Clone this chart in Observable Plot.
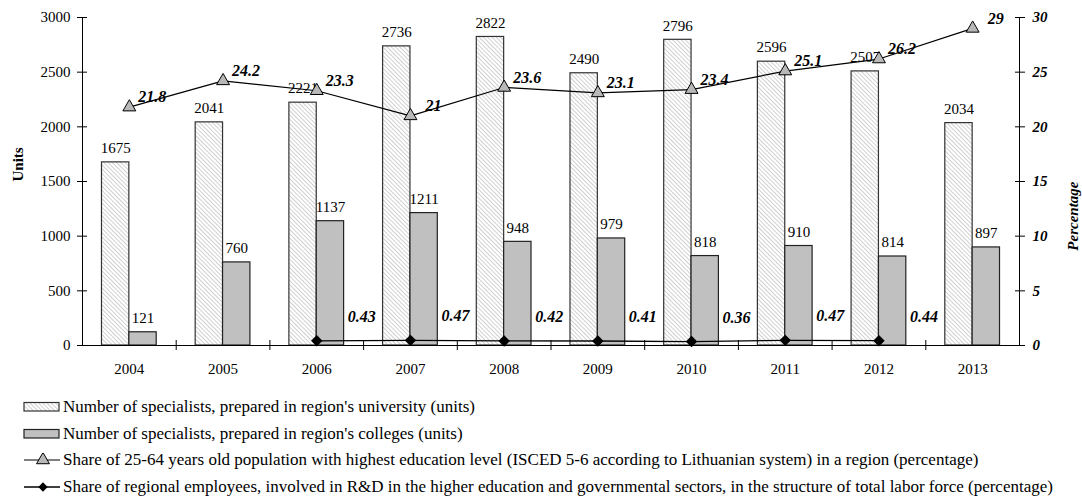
<!DOCTYPE html>
<html>
<head>
<meta charset="utf-8">
<script src="https://cdn.jsdelivr.net/npm/d3@7"></script>
<script src="https://cdn.jsdelivr.net/npm/@observablehq/plot@0.6"></script>
<style>
  body { margin: 0; background: #fff; font-family: "Liberation Serif", "Times New Roman", serif; }
  #legend { padding-top: 9px; font-size: 17px; color: #000; }
  .row { height: 26.5px; display: flex; align-items: center; white-space: nowrap; }
  .row svg { margin-left: 22px; margin-right: 3px; flex: none; }
</style>
</head>
<body>
<div id="chart"></div>
<div id="legend"></div>
<script>
const years = [2004, 2005, 2006, 2007, 2008, 2009, 2010, 2011, 2012, 2013];
const university = [1675, 2041, 2221, 2736, 2822, 2490, 2796, 2596, 2507, 2034];
const colleges = [121, 760, 1137, 1211, 948, 979, 818, 910, 814, 897];
const shareHigherEd = [21.8, 24.2, 23.3, 21, 23.6, 23.1, 23.4, 25.1, 26.2, 29];
const rdYears = [2006, 2007, 2008, 2009, 2010, 2011, 2012];
const rdShare = [0.43, 0.47, 0.42, 0.41, 0.36, 0.47, 0.44];
const unitTicks = [0, 500, 1000, 1500, 2000, 2500, 3000];
const pctTicks = [0, 5, 10, 15, 20, 25, 30];
const legendLabels = [
  "Number of specialists, prepared in region's university (units)",
  "Number of specialists, prepared in region's colleges (units)",
  "Share of 25-64 years old population with highest education level (ISCED 5-6 according to  Lithuanian system) in a region (percentage)",
  "Share of regional employees, involved in R&D in the higher education and governmental sectors, in the structure of total labor force (percentage)"
];

const SERIF = "'Liberation Serif', 'Times New Roman', serif";
const PCT = 100; // 30 % on the right axis corresponds to 3000 units on the left
const bars = years.map((year, i) => ({year, univ: university[i], coll: colleges[i]}));
const share = years.map((year, i) => ({year, v: shareHigherEd[i]}));
const rd = rdYears.map((year, i) => ({year, v: rdShare[i]}));
const w = 0.292;
const boundaries = years.slice(0, -1).map(y => y + 0.5);

const defs = () => {
  const g = d3.create("svg:g");
  const p = g.append("defs").append("pattern")
    .attr("id", "hatch").attr("patternUnits", "userSpaceOnUse")
    .attr("width", 3).attr("height", 3).attr("patternTransform", "rotate(-45)");
  p.append("rect").attr("width", 3).attr("height", 3).attr("fill", "#fff");
  p.append("line").attr("x1", 0).attr("y1", 0).attr("x2", 0).attr("y2", 3)
    .attr("stroke", "#aaa").attr("stroke-width", 1.1);
  return g.node();
};

const chart = Plot.plot({
  width: 1082,
  height: 385,
  marginLeft: 82,
  marginRight: 63,
  marginTop: 17,
  marginBottom: 40,
  style: {fontFamily: SERIF, fontSize: "15px", color: "#000", background: "#fff"},
  x: {type: "linear", domain: [years[0] - 0.5, years[years.length - 1] + 0.5]},
  y: {domain: [0, 3000]},
  marks: [
    defs,
    Plot.rectY(bars, {x1: d => d.year - w, x2: d => d.year, y: "univ", fill: "url(#hatch)", stroke: "#333", strokeWidth: 1.2}),
    Plot.rectY(bars, {x1: d => d.year, x2: d => d.year + w, y: "coll", fill: "#c0c0c0", stroke: "#222", strokeWidth: 1.2}),
    Plot.text(bars, {x: d => d.year - w / 2, y: "univ", text: d => String(d.univ), dy: -14, fontSize: 15, fontFamily: SERIF}),
    Plot.text(bars, {x: d => d.year + w / 2, y: "coll", text: d => String(d.coll), dy: -14, fontSize: 15, fontFamily: SERIF}),
    Plot.ruleX([years[0] - 0.5, years[years.length - 1] + 0.5], {stroke: "#000", strokeWidth: 1}),
    Plot.ruleY([0], {stroke: "#000", strokeWidth: 1}),
    Plot.axisY({ticks: unitTicks, tickSize: 0, tickPadding: 12, label: null, tickFormat: d => String(d), fontFamily: SERIF}),
    Plot.axisY({ticks: unitTicks, fill: "none", tickSize: 10, dx: 5, label: null}),
    Plot.axisY({anchor: "right", ticks: pctTicks.map(d => d * PCT), tickSize: 0, tickPadding: 13, label: null,
      tickFormat: d => String(d / PCT), fontWeight: "bold", fontStyle: "italic", fontFamily: SERIF}),
    Plot.axisY({anchor: "right", ticks: pctTicks.map(d => d * PCT), fill: "none", tickSize: 10, dx: -5, label: null}),
    Plot.axisX({ticks: years, tickSize: 0, tickPadding: 18, label: null, tickFormat: d => String(d), fontFamily: SERIF}),
    Plot.axisX({ticks: boundaries, fill: "none", tickSize: 10, dy: -5, label: null}),
    Plot.text(["Units"], {frameAnchor: "left", text: d => d, rotate: -90, dx: -64, fontWeight: "bold", fontSize: 15, fontFamily: SERIF}),
    Plot.text(["Percentage"], {frameAnchor: "right", text: d => d, rotate: -90, dx: 54, fontWeight: "bold", fontStyle: "italic", fontSize: 15, fontFamily: SERIF}),
    Plot.line(rd, {x: "year", y: d => d.v * PCT, stroke: "#000", strokeWidth: 1.3}),
    Plot.dot(rd, {x: "year", y: d => d.v * PCT, symbol: "diamond2", r: 4.2, fill: "#000", stroke: "#000"}),
    Plot.text(rd, {x: "year", y: d => d.v * PCT, text: d => String(d.v), dx: 45, dy: -24, fontWeight: "bold", fontStyle: "italic", fontSize: 16, fontFamily: SERIF}),
    Plot.line(share, {x: "year", y: d => d.v * PCT, stroke: "#000", strokeWidth: 1.2}),
    Plot.dot(share, {x: "year", y: d => d.v * PCT, symbol: "triangle", r: 4.8, fill: "#b8b8b8", stroke: "#000", strokeWidth: 1}),
    Plot.text(share, {x: "year", y: d => d.v * PCT, text: d => String(d.v), dx: 23, dy: -10, fontWeight: "bold", fontStyle: "italic", fontSize: 16, fontFamily: SERIF})
  ]
});
document.getElementById("chart").appendChild(chart);

// Legend
const legend = d3.select("#legend");
const swatches = [
  s => s.append("rect").attr("x", 2).attr("y", 2.5).attr("width", 35).attr("height", 8.5).attr("fill", "url(#hatchL)").attr("stroke", "#333").attr("stroke-width", 1.2),
  s => s.append("rect").attr("x", 2).attr("y", 2.5).attr("width", 35).attr("height", 8.5).attr("fill", "#c0c0c0").attr("stroke", "#222").attr("stroke-width", 1.2),
  s => {
    s.append("line").attr("x1", 2).attr("x2", 39).attr("y1", 7).attr("y2", 7).attr("stroke", "#000");
    s.append("path").attr("transform", "translate(21,7)").attr("d", d3.symbol(d3.symbolTriangle, Math.PI * 4.8 * 4.8)())
      .attr("fill", "#b8b8b8").attr("stroke", "#000");
  },
  s => {
    s.append("line").attr("x1", 2).attr("x2", 39).attr("y1", 7).attr("y2", 7).attr("stroke", "#000").attr("stroke-width", 1.3);
    s.append("path").attr("transform", "translate(21,7)").attr("d", d3.symbol(d3.symbolDiamond2, Math.PI * 4.2 * 4.2)())
      .attr("fill", "#000");
  }
];
legendLabels.forEach((label, i) => {
  const row = legend.append("div").attr("class", "row");
  const s = row.append("svg").attr("width", 38).attr("height", 14);
  if (i === 0) {
    const p = s.append("defs").append("pattern")
      .attr("id", "hatchL").attr("patternUnits", "userSpaceOnUse")
      .attr("width", 3).attr("height", 3).attr("patternTransform", "rotate(-45)");
    p.append("rect").attr("width", 3).attr("height", 3).attr("fill", "#fff");
    p.append("line").attr("x1", 0).attr("y1", 0).attr("x2", 0).attr("y2", 3).attr("stroke", "#aaa").attr("stroke-width", 1.1);
  }
  swatches[i](s);
  row.append("span").text(label);
});
</script>
</body>
</html>
